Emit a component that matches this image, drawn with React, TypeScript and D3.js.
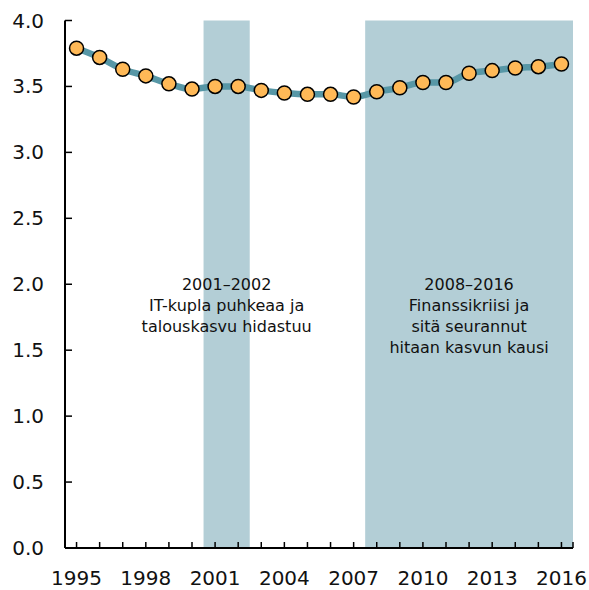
import { useEffect, useRef } from 'react';
import * as d3 from 'd3';

const years = d3.range(1995, 2017);
const values = [
  3.79, 3.72, 3.63, 3.58, 3.52, 3.48, 3.5, 3.5, 3.47, 3.45, 3.44,
  3.44, 3.42, 3.46, 3.49, 3.53, 3.53, 3.6, 3.62, 3.64, 3.65, 3.67,
];
const yTicks = [0, 0.5, 1, 1.5, 2, 2.5, 3, 3.5, 4];
const xTickYears = [1995, 1998, 2001, 2004, 2007, 2010, 2013, 2016];
const periods = [
  { from: 2001, to: 2002, label: ['2001–2002', 'IT-kupla puhkeaa ja', 'talouskasvu hidastuu'] },
  { from: 2008, to: 2016, label: ['2008–2016', 'Finanssikriisi ja', 'sitä seurannut', 'hitaan kasvun kausi'] },
];

const App = () => {
  const svgRef = useRef<SVGSVGElement>(null);

  useEffect(() => {
    const width = 589;
    const height = 590;
    const left = 65;
    const right = 573;
    const top = 20.5;
    const bottom = 548;
    const font = '"DejaVu Sans", sans-serif';

    const svg = d3.select(svgRef.current);
    svg.selectAll('*').remove();
    svg.attr('width', width).attr('height', height);

    const x = d3.scaleLinear().domain([1994.5, 2016.5]).range([left, right]);
    const y = d3.scaleLinear().domain([0, 4]).range([bottom, top]);

    // shaded periods
    periods.forEach(p => {
      svg.append('rect')
        .attr('x', x(p.from - 0.5))
        .attr('y', y(4))
        .attr('width', x(p.to + 0.5) - x(p.from - 0.5))
        .attr('height', y(0) - y(4))
        .attr('fill', '#b3ced6');

      const cx = (x(p.from - 0.5) + x(p.to + 0.5)) / 2;
      const t = svg.append('text')
        .attr('text-anchor', 'middle')
        .style('font-family', font)
        .style('font-size', '16px')
        .attr('fill', '#111');
      p.label.forEach((line, i) => {
        t.append('tspan').attr('x', cx).attr('y', 290 + i * 21).text(line);
      });
    });

    // axes
    const axisG = svg.append('g');
    axisG.append('line')
      .attr('x1', left).attr('x2', left)
      .attr('y1', y(4)).attr('y2', bottom)
      .attr('stroke', '#000').attr('stroke-width', 2);
    axisG.append('line')
      .attr('x1', left).attr('x2', right)
      .attr('y1', bottom).attr('y2', bottom)
      .attr('stroke', '#000').attr('stroke-width', 2);

    yTicks.forEach(v => {
      axisG.append('line')
        .attr('x1', left).attr('x2', left + 7)
        .attr('y1', y(v)).attr('y2', y(v))
        .attr('stroke', '#000').attr('stroke-width', 1.5);
      axisG.append('text')
        .attr('x', 44)
        .attr('y', y(v) + 7)
        .attr('text-anchor', 'end')
        .style('font-family', font)
        .style('font-size', '20px')
        .attr('fill', '#111')
        .text(v.toFixed(1));
    });

    years.forEach(yr => {
      axisG.append('line')
        .attr('x1', x(yr)).attr('x2', x(yr))
        .attr('y1', bottom).attr('y2', bottom - 6)
        .attr('stroke', '#000').attr('stroke-width', 1.5);
    });
    axisG.append('line')
      .attr('x1', right).attr('x2', right)
      .attr('y1', bottom).attr('y2', bottom - 6)
      .attr('stroke', '#000').attr('stroke-width', 1.5);

    xTickYears.forEach(yr => {
      axisG.append('text')
        .attr('x', x(yr))
        .attr('y', 585)
        .attr('text-anchor', 'middle')
        .style('font-family', font)
        .style('font-size', '20px')
        .attr('fill', '#111')
        .text(yr);
    });

    // series
    const pts: [number, number][] = years.map((yr, i) => [yr, values[i]]);
    const line = d3.line<[number, number]>()
      .x(d => x(d[0]))
      .y(d => y(d[1]))
      .curve(d3.curveMonotoneX);

    svg.append('path')
      .attr('d', line(pts))
      .attr('fill', 'none')
      .attr('stroke', '#5797a6')
      .attr('stroke-width', 6.5);

    svg.selectAll('circle.pt')
      .data(pts)
      .enter()
      .append('circle')
      .attr('class', 'pt')
      .attr('cx', d => x(d[0]))
      .attr('cy', d => y(d[1]))
      .attr('r', 7)
      .attr('fill', '#ffb957')
      .attr('stroke', '#000')
      .attr('stroke-width', 1.5);
  }, []);

  return (
    <div style={{ position: 'absolute', left: 0, top: 0 }}>
      <svg ref={svgRef} />
    </div>
  );
};

export default App;
